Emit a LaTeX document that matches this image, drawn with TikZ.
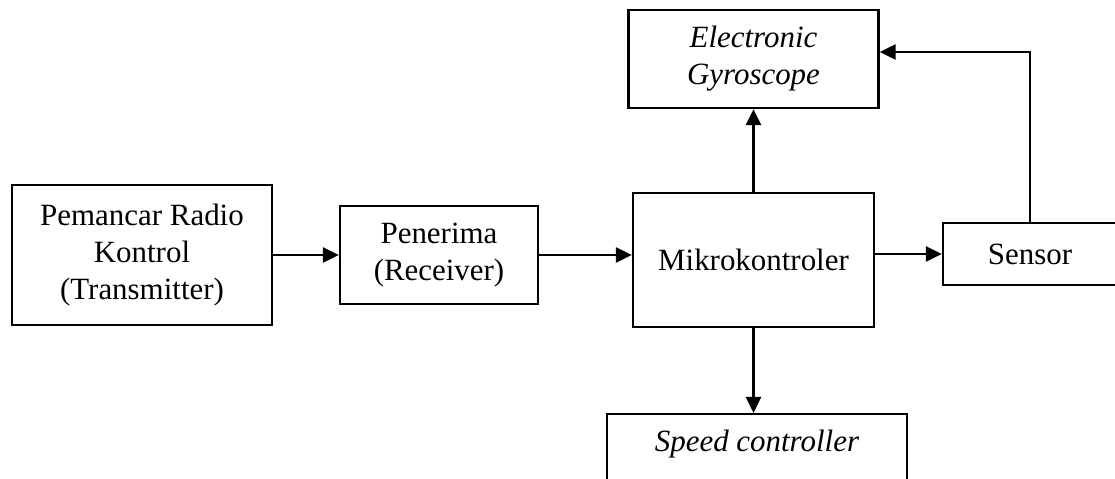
\documentclass[tikz,border=0pt]{standalone}
\usepackage{fontspec}
\setmainfont{Liberation Serif}
\usetikzlibrary{arrows.meta}

\begin{document}
\begin{tikzpicture}[>={Triangle[length=3.2mm, width=3mm]},
  block/.style={draw, line width=1.3pt, align=center, inner sep=1mm,
    font=\fontsize{17.6pt}{21pt}\selectfont},
  link/.style={->, line width=1.3pt}]
  \useasboundingbox (0,0) rectangle (22.3,9.58);
  \clip (0,0) rectangle (22.3,9.58);

  % the blocks
  \node[block, minimum width=5.2cm, minimum height=2.8cm] (trans) at (2.84,4.48)
    {Pemancar Radio\\Kontrol\\(Transmitter)};
  \node[block, minimum width=3.96cm, minimum height=1.96cm] (recv) at (8.78,4.48)
    {Penerima\\(Receiver)};
  \node[block, minimum width=4.82cm, minimum height=2.68cm] (mikro) at (15.07,4.38)
    {Mikrokontroler};
  \node[block, minimum width=3.48cm, minimum height=1.24cm] (sensor) at (20.6,4.5)
    {Sensor};
  \node[block, minimum width=5cm, minimum height=1.96cm] (gyro) at (15.07,8.4)
    {\textit{Electronic}\\\textit{Gyroscope}};
  % speed controller runs off the bottom edge
  \node[block, anchor=north, minimum width=6cm, text height=0.64cm, text depth=1.5cm]
    (speed) at (15.14,1.32) {\textit{Speed controller}};

  % the signal paths
  \draw[link] (trans.east) -- (trans.east -| recv.west);
  \draw[link] (recv.east) -- (recv.east -| mikro.west);
  \draw[link] (mikro.east |- sensor.west) -- (sensor.west);
  \draw[link] (mikro.north) -- (gyro.south);
  \draw[link] (mikro.south) -- (mikro.south |- speed.north);
  \draw[link] (sensor.north) |- ([yshift=0.14cm]gyro.east);
\end{tikzpicture}
\end{document}
